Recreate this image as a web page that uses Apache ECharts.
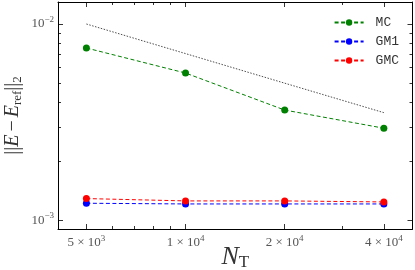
<!DOCTYPE html>
<html><head><meta charset="utf-8">
<script src="https://cdn.jsdelivr.net/npm/echarts@6/dist/echarts.min.js"></script>
<style>html,body{margin:0;padding:0;background:#fff}#c{width:415px;height:270px}</style>
</head><body><div id="c"></div>
<script>
const nT = [5000, 10000, 20000, 40000];
const mc = [7.55e-3, 5.63e-3, 3.65e-3, 2.95e-3];
const gm1 = [1.225e-3, 1.215e-3, 1.215e-3, 1.215e-3];
const gmc = [1.294e-3, 1.259e-3, 1.259e-3, 1.244e-3];
const refLine = [1.0e-2, 7.07e-3, 5.0e-3, 3.54e-3];
const xTickValues = [5000, 10000, 20000, 40000];
const xTickMantissa = ['5', '1', '2', '4'];
const xTickExponent = ['3', '4', '4', '4'];
const xMinorTicks = [6000, 7000, 8000, 9000, 30000];
const yTickValues = [1e-3, 1e-2];
const yTickExponent = ['−3', '−2'];
const yMinorTicks = [2e-3, 3e-3, 4e-3, 5e-3, 6e-3, 7e-3, 8e-3, 9e-3];

const SERIF = 'Liberation Serif';
const X_MIN = 4100, X_MAX = 48870, Y_MIN = 9.06e-4, Y_MAX = 0.01294;

function pairs(ys) { return nT.map((x, i) => [x, ys[i]]); }

function xAxisDef(pos, major) {
  return {
    type: 'log', logBase: 10, min: X_MIN, max: X_MAX, position: pos, gridIndex: 0,
    axisLine: { show: major, lineStyle: { color: '#000', width: 1 } },
    axisTick: { show: true, inside: true, length: major ? 5 : 3,
      customValues: major ? xTickValues : xMinorTicks,
      lineStyle: { color: '#000', width: 0.8 } },
    axisLabel: major && pos === 'bottom' ? {
      show: true, customValues: xTickValues, margin: 5,
      formatter: function (v) {
        const i = xTickValues.findIndex(t => Math.abs(t - v) / t < 1e-6);
        if (i < 0) return '';
        return '{m|' + xTickMantissa[i] + ' × 10}{s|' + xTickExponent[i] + '}';
      },
      rich: {
        m: { fontFamily: SERIF, fontSize: 13, color: '#555' },
        s: { fontFamily: SERIF, fontSize: 9, color: '#555', padding: [0, 0, 9, 0] }
      }
    } : { show: false },
    nameMoveOverlap: false,
    splitLine: { show: false }, minorTick: { show: false }
  };
}
function yAxisDef(pos, major) {
  return {
    type: 'log', logBase: 10, min: Y_MIN, max: Y_MAX, position: pos, gridIndex: 0,
    axisLine: { show: major, lineStyle: { color: '#000', width: 1 } },
    axisTick: { show: true, inside: true, length: major ? 5 : 3,
      customValues: major ? yTickValues : yMinorTicks,
      lineStyle: { color: '#000', width: 0.8 } },
    axisLabel: major && pos === 'left' ? {
      show: true, customValues: yTickValues, margin: 4,
      formatter: function (v) {
        const i = yTickValues.findIndex(t => Math.abs(t - v) / t < 1e-6);
        if (i < 0) return '';
        return '{m|10}{s|' + yTickExponent[i] + '}';
      },
      rich: {
        m: { fontFamily: SERIF, fontSize: 13, color: '#555' },
        s: { fontFamily: SERIF, fontSize: 9, color: '#555', padding: [0, 0, 9, 0] }
      }
    } : { show: false },
    name: major && pos === 'left' ? '{n|||}{i|E}{m|−}{i|E}{sb|ref}{n|||}{sb|2}' : '',
    nameLocation: 'middle', nameGap: 34, nameRotate: 90, nameMoveOverlap: false,
    nameTextStyle: {
      rich: {
        n: { fontFamily: SERIF, fontSize: 20, color: '#333' },
        m: { fontFamily: SERIF, fontSize: 20, color: '#333', padding: [0, 3, 0, 3] },
        i: { fontFamily: SERIF, fontStyle: 'italic', fontSize: 20, color: '#333' },
        sb: { fontFamily: SERIF, fontSize: 13, color: '#333', padding: [10, 0, 0, 0] }
      }
    },
    splitLine: { show: false }, minorTick: { show: false }
  };
}

const xAxes = [xAxisDef('bottom', true), xAxisDef('bottom', false), xAxisDef('top', true), xAxisDef('top', false)];
xAxes[0].name = '{i|N}{sb|T}';
xAxes[0].nameLocation = 'middle';
xAxes[0].nameGap = 15;
xAxes[0].nameTextStyle = { rich: {
  i: { fontFamily: SERIF, fontStyle: 'italic', fontSize: 26, color: '#333' },
  sb: { fontFamily: SERIF, fontSize: 17, color: '#333', padding: [10, 0, 0, 0] }
}};

const yAxes = [yAxisDef('left', true), yAxisDef('left', false), yAxisDef('right', true), yAxisDef('right', false)];

function series(name, data, color) {
  return {
    name: name, type: 'line', data: pairs(data), xAxisIndex: 0, yAxisIndex: 0,
    symbol: 'circle', symbolSize: 7, showSymbol: true,
    itemStyle: { color: color },
    lineStyle: { color: color, width: 1, type: [4, 2.5] },
    emphasis: { disabled: true }, animation: false
  };
}

const chart = echarts.init(document.getElementById('c'), null, { renderer: 'canvas' });
chart.setOption({
  animation: false,
  grid: { left: 58, right: 2.5, top: 2, bottom: 41, containLabel: false, outerBoundsMode: 'none' },
  xAxis: xAxes,
  yAxis: yAxes,
  legend: {
    orient: 'vertical', right: 11, top: 11, itemWidth: 29, itemHeight: 8, itemGap: 6,
    data: ['MC', 'GM1', 'GMC'],
    textStyle: { fontFamily: 'Liberation Mono', fontSize: 13, color: '#333', padding: [0, 0, 0, 7] }
  },
  series: [
    {
      name: 'ref', type: 'line', data: pairs(refLine), xAxisIndex: 0, yAxisIndex: 0,
      symbol: 'none', lineStyle: { color: '#000', width: 0.7, type: [1.5, 1.5] },
      emphasis: { disabled: true }, animation: false
    },
    series('MC', mc, '#008000'),
    series('GM1', gm1, '#0000ff'),
    series('GMC', gmc, '#ff0000')
  ]
});
</script>
</body></html>
